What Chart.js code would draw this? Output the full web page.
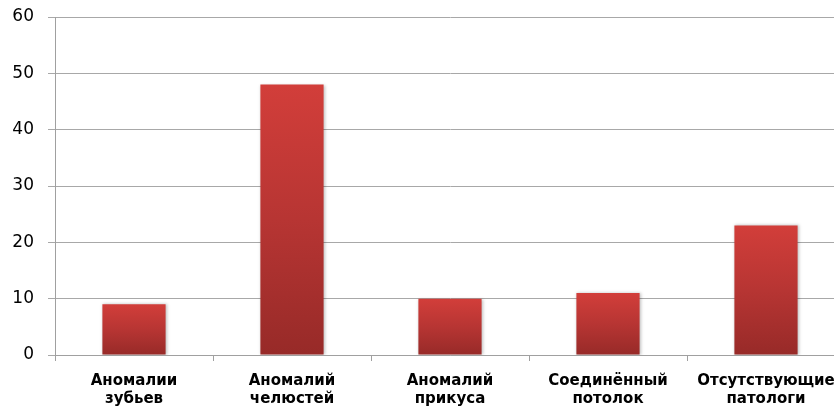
<!DOCTYPE html>
<html>
<head>
<meta charset="utf-8">
<script src="https://cdn.jsdelivr.net/npm/chart.js@4/dist/chart.umd.min.js"></script>
<style>
  html, body { margin: 0; padding: 0; background: #ffffff; }
  #wrap { width: 834px; height: 406px; overflow: hidden; position: relative; }
  #box { width: 845px; height: 406px; position: absolute; left: 0; top: 0; }
</style>
</head>
<body>
<div id="wrap"><div id="box"><canvas id="c"></canvas></div></div>
<script>
// Categories (two-line labels) and values
const categories = [
  ["Аномалии", "зубьев"],
  ["Аномалий", "челюстей"],
  ["Аномалий", "прикуса"],
  ["Соединённый", "потолок"],
  ["Отсутствующие", "патологи"]
];
const values = [9, 48, 10, 11, 23];
const yTicks = [0, 10, 20, 30, 40, 50, 60];

// Vertical red gradient, lighter at the top of each bar
function barFill(ctx) {
  const chart = ctx.chart;
  const area = chart.chartArea;
  if (!area || ctx.dataIndex === undefined) return '#c0393a';
  const y = chart.scales.y;
  const top = y.getPixelForValue(ctx.raw);
  const bottom = y.getPixelForValue(0);
  const g = chart.ctx.createLinearGradient(0, top, 0, bottom);
  g.addColorStop(0, '#d23e3a');
  g.addColorStop(0.5, '#b73533');
  g.addColorStop(1, '#972a28');
  return g;
}

// Soft shadow behind bars
const barShadow = {
  id: 'barShadow',
  beforeDatasetsDraw(chart) {
    const c = chart.ctx;
    c.save();
    c.shadowColor = 'rgba(0,0,0,0.25)';
    c.shadowBlur = 3;
    c.shadowOffsetX = 1;
    c.shadowOffsetY = 0;
  },
  afterDatasetsDraw(chart) {
    chart.ctx.restore();
  }
};

new Chart(document.getElementById('c'), {
  type: 'bar',
  data: {
    labels: categories,
    datasets: [{
      data: values,
      backgroundColor: barFill,
      borderWidth: 0,
      barPercentage: 0.8,
      categoryPercentage: 0.5
    }]
  },
  options: {
    responsive: true,
    maintainAspectRatio: false,
    animation: false,
    layout: { padding: { top: 17, left: 0, right: 0, bottom: 0 } },
    plugins: { legend: { display: false }, tooltip: { enabled: false } },
    scales: {
      x: {
        grid: {
          display: true,
          offset: true,
          drawOnChartArea: false,
          drawTicks: true,
          tickLength: 6,
          color: '#a0a0a0'
        },
        border: { display: true, color: '#a0a0a0', width: 1 },
        ticks: {
          color: '#000000',
          padding: 11,
          maxRotation: 0,
          autoSkip: false,
          font: { family: '"DejaVu Sans", Verdana, sans-serif', size: 15, weight: 'bold', lineHeight: 1.2 }
        },
        afterFit(s) { s.height = 51; s.paddingLeft = 0; s.paddingRight = 0; }
      },
      y: {
        min: 0,
        max: 60,
        afterBuildTicks(s) { s.ticks = yTicks.map(v => ({ value: v })); },
        grid: {
          color: '#a8a8a8',
          lineWidth: 1,
          tickLength: 7
        },
        border: { display: true, color: '#a0a0a0', width: 1 },
        ticks: {
          color: '#000000',
          padding: 14,
          font: { family: '"DejaVu Sans", Verdana, sans-serif', size: 17 }
        },
        afterFit(s) { s.width = 55; s.paddingTop = 0; s.paddingBottom = 0; }
      }
    }
  },
  plugins: [barShadow]
});
</script>
</body>
</html>
